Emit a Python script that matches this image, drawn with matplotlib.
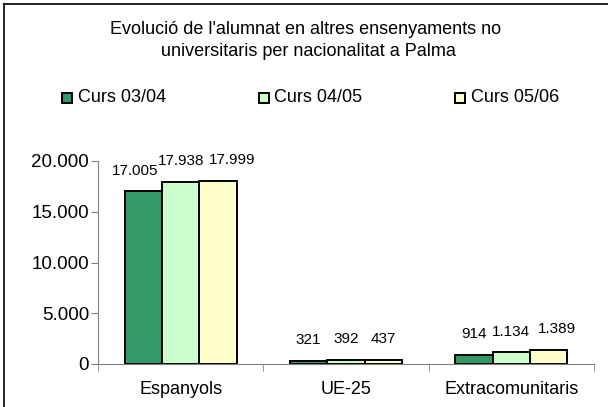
import numpy as np
import matplotlib.pyplot as plt
from matplotlib.lines import Line2D
from matplotlib.ticker import FuncFormatter

plt.rcParams['font.family'] = ['Liberation Sans', 'DejaVu Sans']

categories = ['Espanyols', 'UE-25', 'Extracomunitaris']
series = ['Curs 03/04', 'Curs 04/05', 'Curs 05/06']
values = [
    [17005, 321, 914],
    [17938, 392, 1134],
    [17999, 437, 1389],
]
colors = ['#339966', '#CCFFCC', '#FFFFCC']

# small horizontal nudges (points) for crowded value labels: (series, category)
label_nudge = {(0, 0): -6, (2, 0): 10, (2, 2): 6}


def fmt(v):
    return f'{v:,.0f}'.replace(',', '.')


fig = plt.figure(figsize=(6.08, 4.07), dpi=100)
ax = fig.add_axes([98 / 608, 1 - 364 / 407, 496 / 608, 203 / 407])

x = np.arange(len(categories))
w = 0.226
for i, (name, vals, c) in enumerate(zip(series, values, colors)):
    pos = x + (i - 1) * w
    ax.bar(pos, vals, w, color=c, edgecolor='black', linewidth=1.4, label=name)
    for j, (px, v) in enumerate(zip(pos, vals)):
        ax.annotate(fmt(v), (px, v), xytext=(label_nudge.get((i, j), 0), 10),
                    textcoords='offset points', ha='center', va='bottom', fontsize=11)

ax.set_xlim(-0.5, 2.5)
ax.set_ylim(0, 20000)
ax.set_yticks([0, 5000, 10000, 15000, 20000])
ax.yaxis.set_major_formatter(FuncFormatter(lambda v, p: fmt(v)))
ax.set_xticks(x)
ax.set_xticklabels(categories)
ax.set_xticks([-0.5, 0.5, 1.5, 2.5], minor=True)
ax.tick_params(axis='x', which='major', length=0, pad=12, labelsize=13)
ax.tick_params(axis='x', which='minor', length=5, color='#808080', direction='out')
ax.tick_params(axis='y', length=5, color='#808080', labelsize=13.5, pad=1.5)
for s in ['top', 'right']:
    ax.spines[s].set_visible(False)
for s in ['left', 'bottom']:
    ax.spines[s].set_color('#808080')

fig.text(306 / 608, 1 - 29 / 407, "Evolució de l'alumnat en altres ensenyaments no",
         ha='center', va='center', fontsize=13)
fig.text(308 / 608, 1 - 52 / 407, "universitaris per nacionalitat a Palma",
         ha='center', va='center', fontsize=13)

for i, (name, c) in enumerate(zip(series, colors)):
    lx = 62 + i * 196.5
    fig.patches.append(plt.Rectangle((lx / 608, 1 - 103 / 407), 10 / 608, 10 / 407,
                                     facecolor=c, edgecolor='black', linewidth=1.4,
                                     transform=fig.transFigure))
    fig.text((lx + 16) / 608, 1 - 97 / 407, name, ha='left', va='center', fontsize=13)

fig.add_artist(Line2D([4 / 608, 4 / 608], [0, 1 - 4 / 407], color='black', lw=1.2))
fig.add_artist(Line2D([4 / 608, 1], [1 - 4 / 407, 1 - 4 / 407], color='black', lw=1.2))

fig.savefig('out.png', dpi=100)
